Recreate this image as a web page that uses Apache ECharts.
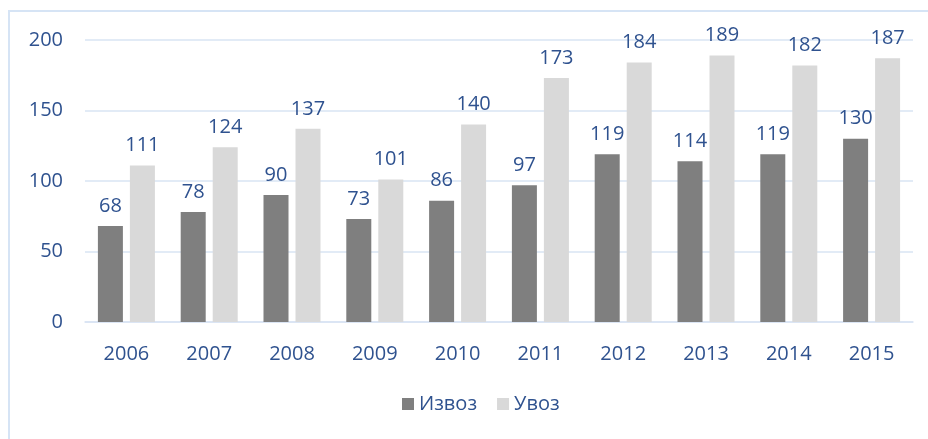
<!DOCTYPE html>
<html>
<head>
<meta charset="utf-8">
<script src="https://cdn.jsdelivr.net/npm/echarts@6/dist/echarts.min.js"></script>
<style>
  html, body { margin: 0; padding: 0; background: #fff; }
  #chart { width: 928px; height: 439px; }
</style>
</head>
<body>
<div id="chart"></div>
<script>
// years on the x axis
const years = ['2006', '2007', '2008', '2009', '2010', '2011', '2012', '2013', '2014', '2015'];
// Извоз (export)
const izvoz = [68, 78, 90, 73, 86, 97, 119, 114, 119, 130];
// Увоз (import)
const uvoz = [111, 124, 137, 101, 140, 173, 184, 189, 182, 187];

const textColor = '#2F528F';
const lineColor = '#D9E4F3';
const font = 'Open Sans';

const chart = echarts.init(document.getElementById('chart'));

const option = {
    animation: false,
    textStyle: { fontFamily: font },
    graphic: [{
        type: 'rect',
        shape: { x: 9, y: 11, width: 940, height: 450 },
        style: { fill: 'none', stroke: '#D6E4F5', lineWidth: 2 }
    }],
    grid: { left: 85, right: 15, top: 40, bottom: 117 },
    legend: {
        left: 397,
        bottom: 20,
        icon: 'rect',
        itemWidth: 12,
        itemHeight: 12,
        itemGap: 20,
        textStyle: { color: textColor, fontSize: 20, fontFamily: font }
    },
    xAxis: {
        type: 'category',
        data: years,
        axisLine: { lineStyle: { color: lineColor, width: 1.5 } },
        axisTick: { show: false },
        axisLabel: { color: textColor, fontSize: 20, margin: 22 }
    },
    yAxis: {
        type: 'value',
        min: 0,
        max: 200,
        interval: 50,
        axisLine: { show: false },
        axisTick: { show: false },
        splitLine: { lineStyle: { color: lineColor, width: 1.5 } },
        axisLabel: { color: textColor, fontSize: 20, margin: 22 }
    },
    series: [{
        name: 'Извоз',
        type: 'bar',
        data: izvoz,
        barWidth: 25,
        barGap: '28%',
        itemStyle: { color: '#7F7F7F' },
        label: { show: true, position: 'top', distance: 10, color: textColor, fontSize: 20 }
    }, {
        name: 'Увоз',
        type: 'bar',
        data: uvoz,
        barWidth: 25,
        itemStyle: { color: '#D9D9D9' },
        label: { show: true, position: 'top', distance: 10, color: textColor, fontSize: 20 }
    }]
};

chart.setOption(option);
</script>
</body>
</html>
